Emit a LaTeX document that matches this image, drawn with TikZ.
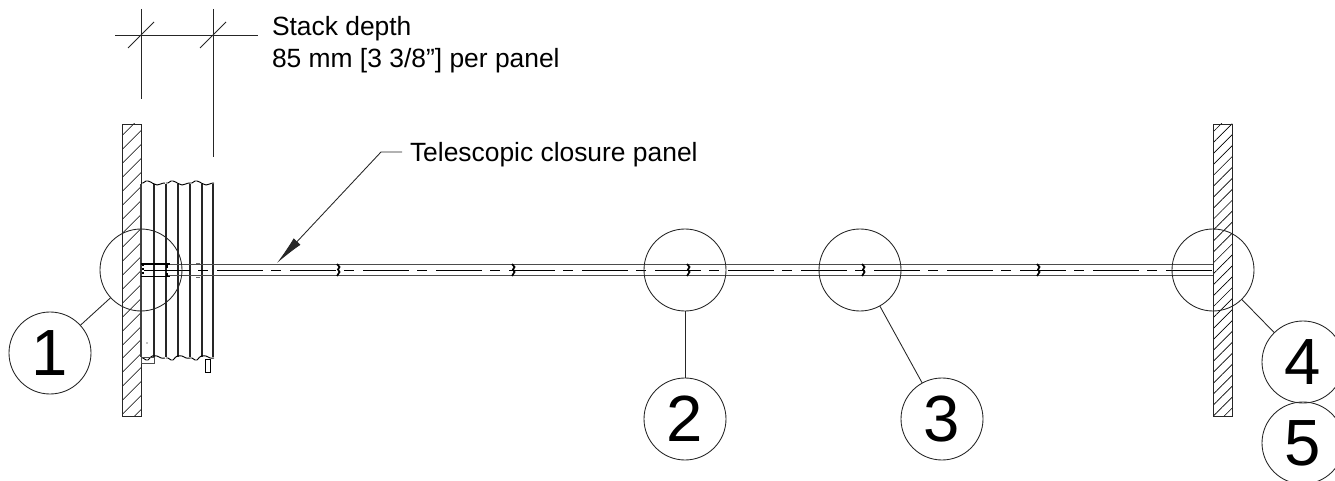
\documentclass[tikz,border=0pt]{standalone}
\usepackage{fontspec}
\setmainfont{Liberation Sans}
\usetikzlibrary{arrows, arrows.meta}
\usetikzlibrary{patterns,patterns.meta}
\tikzset{
  thinline/.style={line width=.65pt, draw=black!85},
  wallleft/.style={thinline, pattern={Lines[angle=45,distance=7.4pt,line width=.5pt]}},
  wallright/.style={thinline, pattern={Lines[angle=45,distance=5.8pt,line width=.5pt]}},
  detailring/.style={circle, draw=black!85, line width=.65pt, minimum size=61.5pt, inner sep=0pt, outer sep=0pt},
  callout/.style={detailring, font=\fontsize{49}{49}\selectfont},
  note/.style={font=\fontsize{19.8}{24}\selectfont, inner sep=0pt, outer sep=0pt, align=left},
  panelline/.style={line width=.7pt, draw=black!70},
  stackline/.style={line width=.9pt, draw=black!85},
}
\begin{document}
\begin{tikzpicture}[x=.75pt, y=-.75pt]
	\useasboundingbox (0,0) rectangle (1335,481);
	% Walls
	\draw[wallleft] (122,124) rectangle (141,416);
	\draw[wallright] (1213,124) rectangle (1232,416);
	% Stacked panels
	\foreach \x in {154,166,178,190,202,213} {
		\draw[stackline] (\x,184) -- (\x,357);
	}
	\draw[line width=1.5pt, draw=black!75] (141,184) -- (141,357);
	\foreach \x in {141,166,190} {
		\draw[line width=.7pt] (\x,183) .. controls (\x+3,184) and (\x+4,180) .. (\x+7,181)
			.. controls (\x+11,182) and (\x+13,185) .. (\x+16,185)
			.. controls (\x+19,185) and (\x+20,183) .. (\x+24,183);
		\draw[line width=.7pt] (\x,358) .. controls (\x+3,357) and (\x+4,361) .. (\x+7,360)
			.. controls (\x+11,355) and (\x+13,355) .. (\x+16,356)
			.. controls (\x+19,357) and (\x+20,359) .. (\x+24,358);
	}
	% Bottom clip and pin
	\draw[line width=.7pt, draw=black!70] (141,363) rectangle (154,357);
	\fill (147,343) circle (.5pt);
	\draw[line width=.6pt] (205,359) rectangle (210,372);
	% Panel run
	\draw[panelline] (166,264.5) -- (1213,264.5);
	\draw[panelline] (166,275.7) -- (1213,275.7);
	\draw[line width=.65pt, dash pattern=on 34.5pt off 6pt on 7.5pt off 6.75pt] (144,270.5) -- (1213,270.5);
	\draw[line width=1pt] (141,264) -- (170,264) (141,276.5) -- (170,276.5);
	\draw[line width=1.4pt, dash pattern=on 1.5pt off 1.5pt] (143,264) -- (143,276);
	\draw[line width=.8pt] (167,264) -- (167,268) (167,273) -- (167,276);
	\draw[line width=.6pt, draw=black!60] (196,263.5) -- (200,263.5) (196,277) -- (200,277);
	\foreach \x in {338,513,688,863,1038} {
		\draw[line width=1.3pt] (\x-1,264) -- (\x+1.5,267) -- (\x,269.5) -- (\x+1.5,272) -- (\x-1,276);
	}
	% Stack dimension
	\coordinate (dimL) at (115,35);
	\coordinate (dimR) at (258,35);
	\coordinate (extAt) at (141,9);
	\coordinate (extAb) at (141,99);
	\coordinate (extBt) at (213,9);
	\coordinate (extBb) at (213,157);
	\draw[thinline] (dimL) -- (dimR);
	\draw[thinline] (extAt) -- (extAb);
	\draw[thinline] (extBt) -- (extBb);
	\foreach \x in {141,213} {
		\draw[thinline] (\x-13,48) -- (\x+13,22);
	}
	\node[note, anchor=base west] (stacktext) at (272,36) {Stack depth};
	\node[note, anchor=base west] (stackvalue) at (272,67.5) {85 mm [3 3/8”] per panel};
	% Leader
	\node[note, anchor=base west] (closure) at (410,161.5) {Telescopic closure panel};
	\coordinate (bend) at (381,152);
	\coordinate (leaderend) at (402,152);
	\coordinate (tip) at (277,263);
	\draw[thinline, -{Latex[length=22pt, width=7pt]}] (leaderend) -- (bend) -- (tip);
	% Detail rings
	\node[detailring] (ring1) at (141,270) {};
	\node[detailring] (ring2) at (685,270) {};
	\node[detailring] (ring3) at (860,270) {};
	\node[detailring] (ring4) at (1213,270) {};
	% Callouts
	\node[callout] (num1) at (50,353) {1};
	\node[callout] (num2) at (685,419) {2};
	\node[callout] (num3) at (942,419) {3};
	\node[callout] (num4) at (1303,362) {4};
	\node[callout] (num5) at (1303,443) {5};
	\draw[thinline] (ring1) -- (num1);
	\draw[thinline] (ring2) -- (num2);
	\draw[thinline] (ring3) -- (num3);
	\draw[thinline] (ring4) -- (num4);
\end{tikzpicture}
\end{document}
